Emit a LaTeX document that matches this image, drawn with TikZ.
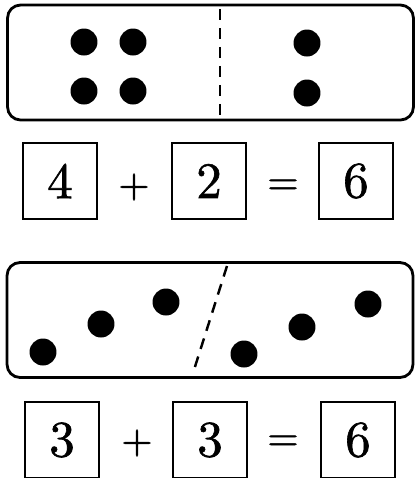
\documentclass[tikz,border=0pt]{standalone}
\usepackage{fontspec}
\usetikzlibrary{positioning}
\newfontfamily\sumfont{lmroman10-regular}[Extension=.otf, FakeBold=1.2]

\begin{document}
\begin{tikzpicture}[
  x=0.02cm, y=-0.02cm,
  domino/.style={draw, line width=1.6pt, rounded corners=0.26cm, minimum width=8.12cm, minimum height=2.3cm, inner sep=0pt},
  pip/.style={circle, fill=black, minimum size=0.54cm, inner sep=0pt},
  split/.style={line width=1.4pt, dash pattern=on 0.22cm off 0.16cm},
  numbox/.style={draw, line width=1.2pt, minimum width=1.48cm, minimum height=1.52cm, inner sep=0pt, font=\sumfont\fontsize{29}{34}\selectfont},
  op/.style={inner sep=0pt, font=\sumfont\fontsize{23}{26}\selectfont},
]

\useasboundingbox (0,0) rectangle (415,478);

% first domino: 4 and 2
\node[domino] (dominoA) at (210.5,62.5) {};
\coordinate (cutAtop) at (220,9);
\coordinate (cutAbot) at (220,116);
\draw[split] (cutAtop) -- (cutAbot);
\node[pip] (a1) at (84,42) {};
\node[pip] (a2) at (133,42) {};
\node[pip] (a3) at (84,91) {};
\node[pip] (a4) at (133,91) {};
\node[pip] (a5) at (307,43) {};
\node[pip] (a6) at (307,93) {};

% first sum
\node[numbox] (sumA1) at (60,181) {4};
\node[op] (plusA) at (134,187) {+};
\node[numbox] (sumA2) at (209,181) {2};
\node[op] (eqA) at (283,187) {=};
\node[numbox] (sumA3) at (356,181) {6};

% second domino: 3 and 3
\node[domino] (dominoB) at (210,320) {};
\coordinate (cutBtop) at (227,266);
\coordinate (cutBbot) at (193,373);
\draw[split] (cutBtop) -- (cutBbot);
\node[pip] (b1) at (43,352) {};
\node[pip] (b2) at (101,324) {};
\node[pip] (b3) at (166,302) {};
\node[pip] (b4) at (244,354) {};
\node[pip] (b5) at (302,327) {};
\node[pip] (b6) at (368,304) {};

% second sum
\node[numbox] (sumB1) at (62,440) {3};
\node[op] (plusB) at (137,443) {+};
\node[numbox] (sumB2) at (210,440) {3};
\node[op] (eqB) at (283,443) {=};
\node[numbox] (sumB3) at (358,440) {6};

\end{tikzpicture}
\end{document}
